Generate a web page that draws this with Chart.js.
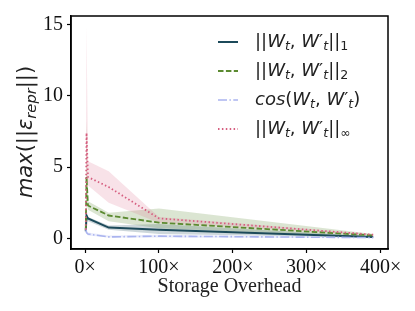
<!DOCTYPE html>
<html><head><meta charset="utf-8">
<script src="https://cdn.jsdelivr.net/npm/chart.js@4"></script>
<style>html,body{margin:0;padding:0;background:#fff}#wrap{width:415px;height:311px}</style>
</head><body><div id="wrap"><canvas id="c" width="415" height="311"></canvas></div>
<script>
// ---- data ----
const overhead = [1, 2, 4, 32, 100, 390];
const xTicks = [0, 100, 200, 300, 400];
const yTicks = [0, 5, 10, 15];

const l1Mean = [0.5, 1.6, 1.4, 0.75, 0.6, 0.1];
const l1Low  = [0.4, 1.2, 1.2, 0.6, 0.3, 0.05];
const l1High = [0.6, 2.0, 1.5, 0.9, 1.0, 0.15];

const l2Mean = [0.6, 4.3, 2.3, 1.6, 1.1, 0.2];
const l2Low  = [0.5, 2.5, 2.0, 1.2, 0.7, 0.1];
const l2High = [0.7, 8.3, 2.6, 1.8, 2.1, 0.3];

const cosMean = [0.7, 0.4, 0.3, 0.1, 0.15, 0.05];
const cosLow  = [0.6, 0.3, 0.2, 0.05, 0.05, 0.0];
const cosHigh = [0.8, 0.5, 0.4, 0.2, 0.25, 0.1];

const infMean = [0.6, 7.4, 4.3, 3.6, 1.4, 0.25];
const infLow  = [0.5, 3.5, 3.7, 2.5, 1.1, 0.2];
const infHigh = [0.7, 14.9, 5.4, 4.7, 1.5, 0.3];

const seriesLabels = ["||W_t, W'_t||_1", "||W_t, W'_t||_2", "cos(W_t, W'_t)", "||W_t, W'_t||_∞"];

// ---- build ----
const pts = arr => overhead.map((x, i) => ({x: x, y: arr[i]}));
const series = [
  {label: seriesLabels[0], mean: l1Mean, lo: l1Low, hi: l1High, color: '#1c4a5a', band: 'rgba(28,74,90,0.22)', dash: [], width: 2},
  {label: seriesLabels[1], mean: l2Mean, lo: l2Low, hi: l2High, color: '#5b8a30', band: 'rgba(91,138,48,0.22)', dash: [5.5, 2.4], width: 1.8},
  {label: seriesLabels[2], mean: cosMean, lo: cosLow, hi: cosHigh, color: '#aab4ef', band: 'rgba(170,180,239,0.25)', dash: [9, 2.4, 1.5, 2.4], width: 1.6},
  {label: seriesLabels[3], mean: infMean, lo: infLow, hi: infHigh, color: '#d65f80', band: 'rgba(214,95,128,0.18)', dash: [1.5, 2.4], width: 1.8}
];
const datasets = [];
series.forEach((s, k) => {
  const base = datasets.length;
  datasets.push({label: s.label + ' low', data: pts(s.lo), borderWidth: 0, pointRadius: 0, fill: false, borderColor: 'rgba(0,0,0,0)', order: 20 - k});
  datasets.push({label: s.label + ' high', data: pts(s.hi), borderWidth: 0, pointRadius: 0, fill: {target: base}, backgroundColor: s.band, borderColor: 'rgba(0,0,0,0)', order: 20 - k});
  datasets.push({label: s.label, data: pts(s.mean), borderColor: s.color, borderWidth: s.width, borderDash: s.dash, pointRadius: 0, fill: false, order: 10 - k});
});

function drawRich(ctx, segs, x, y, size) {
  let cx = x;
  segs.forEach(([t, st]) => {
    const sub = st[0] === 's';
    const ital = st.indexOf('i') >= 0;
    const fs = sub ? size * 0.7 : size;
    ctx.font = (ital ? 'italic ' : '') + fs + 'px "DejaVu Sans"';
    ctx.fillText(t, cx, y + (sub ? size * 0.25 : 0));
    cx += ctx.measureText(t).width;
  });
  return cx - x;
}
function richWidth(ctx, segs, size) {
  let w = 0;
  segs.forEach(([t, st]) => {
    const sub = st[0] === 's';
    const ital = st.indexOf('i') >= 0;
    ctx.font = (ital ? 'italic ' : '') + (sub ? size * 0.7 : size) + 'px "DejaVu Sans"';
    w += ctx.measureText(t).width;
  });
  return w;
}
const wpair = [['||','r'],['W','i'],['t','si'],[', ','r'],['W','i'],["′",'r'],['t','si']];
const legendSegs = [
  wpair.concat([['||','r'],['1','sr']]),
  wpair.concat([['||','r'],['2','sr']]),
  [['cos','i'],['(','r']].concat(wpair.slice(1)).concat([[')','r']]),
  wpair.concat([['||','r'],['∞','sr']])
];

const decor = {
  id: 'decor',
  afterDraw(chart) {
    const ctx = chart.ctx, a = chart.chartArea;
    ctx.save();
    ctx.strokeStyle = '#000'; ctx.lineWidth = 1.5;
    ctx.strokeRect(a.left, a.top, a.right - a.left, a.bottom - a.top);
    // legend
    const rows = [42, 71, 100, 129];
    ctx.fillStyle = '#222'; ctx.textBaseline = 'middle';
    series.forEach((s, i) => {
      ctx.beginPath();
      ctx.strokeStyle = s.color; ctx.lineWidth = s.width; ctx.setLineDash(s.dash);
      ctx.moveTo(218, rows[i]); ctx.lineTo(238, rows[i]); ctx.stroke();
      ctx.setLineDash([]);
      ctx.fillStyle = '#222';
      drawRich(ctx, legendSegs[i], 255, rows[i], 18);
    });
    // y title
    const ySegs = [['max','i'],['(','r'],['||','r'],['ε','i'],['repr','si'],['||','r'],[')','r']];
    const size = 21;
    const w = richWidth(ctx, ySegs, size);
    ctx.translate(27, 132);
    ctx.rotate(-Math.PI / 2);
    ctx.fillStyle = '#222';
    drawRich(ctx, ySegs, -w / 2, 0, size);
    ctx.restore();
  }
};

new Chart(document.getElementById('c'), {
  type: 'line',
  data: {datasets: datasets},
  plugins: [decor],
  options: {
    responsive: false, animation: false,
    layout: {padding: {top: 11, right: 27, left: 0, bottom: 0}},
    plugins: {legend: {display: false}, tooltip: {enabled: false}},
    scales: {
      x: {
        type: 'linear', min: -19, max: 410,
        afterBuildTicks: sc => { sc.ticks = xTicks.map(v => ({value: v})); },
        afterFit: sc => { sc.height = 62; },
        grid: {drawOnChartArea: false, drawTicks: true, tickLength: 4, color: '#000', tickWidth: 1.2},
        border: {display: true, color: '#000', width: 1.5},
        ticks: {color: '#111', padding: 3, maxRotation: 0, font: {family: '"Liberation Serif"', size: 20}, callback: v => v + '×'},
        title: {display: true, text: 'Storage Overhead', color: '#222', font: {family: '"Liberation Serif"', size: 20}, padding: {top: 0, bottom: 12}}
      },
      y: {
        type: 'linear', min: -0.75, max: 15.6,
        afterBuildTicks: sc => { sc.ticks = yTicks.map(v => ({value: v})); },
        afterFit: sc => { sc.width = 71; },
        grid: {drawOnChartArea: false, drawTicks: true, tickLength: 4, color: '#000', tickWidth: 1.2},
        border: {display: true, color: '#000', width: 1.5},
        ticks: {color: '#111', padding: 4, font: {family: '"Liberation Serif"', size: 20}}
      }
    }
  }
});
</script></body></html>
